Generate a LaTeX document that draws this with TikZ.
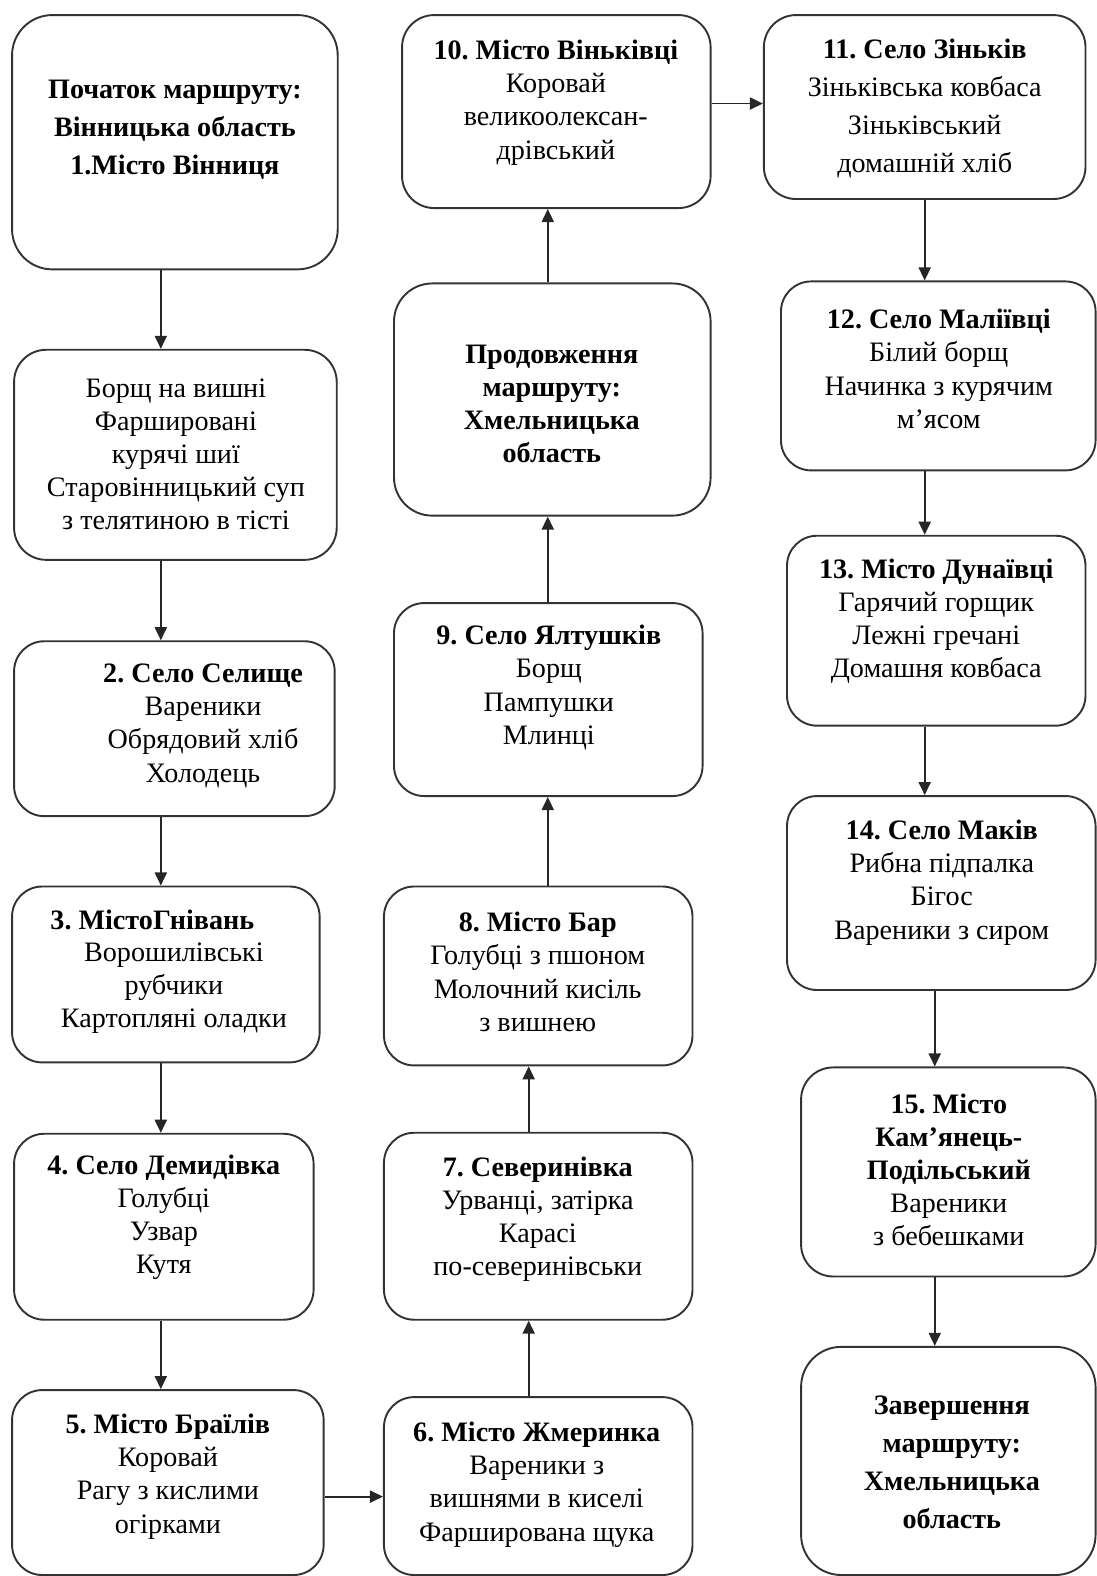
\documentclass[tikz,border=0pt]{standalone}
\usepackage{fontspec}
\setmainfont{Liberation Serif}
\usetikzlibrary{arrows.meta}
\frenchspacing
\newcommand\BoxAt[6]{\node[box, rounded corners=#6, minimum width={(#4)-(#2)}, minimum height={(#5)-(#3)}] (#1) at ({((#2)+(#4))/2},{((#3)+(#5))/2}) {};}
\begin{document}
\begin{tikzpicture}[x=1pt,y=-1pt,
 box/.style={draw=black!80, line width=1.9pt, inner sep=0pt, fill=white},
 txt/.style={align=center, inner sep=0pt, font=\fontsize{28}{33}\selectfont\frenchspacing},
 txtw/.style={align=center, inner sep=0pt, font=\fontsize{28}{38}\selectfont\frenchspacing},
 btxt/.style={align=center, inner sep=0pt, font=\fontsize{28}{38}\selectfont\bfseries\frenchspacing},
 arr/.style={draw=black!85, line width=1.9pt, -{Triangle[length=13pt,width=12pt]}}
]
\useasboundingbox (0,0) rectangle (1091,1568);
% column 1
\BoxAt{b0}{12}{15}{336}{268}{40pt}
\BoxAt{bA}{14}{348}{335}{557}{32pt}
\BoxAt{b2}{14}{638}{333}{812}{30pt}
\BoxAt{b3}{12}{882}{318}{1057}{30pt}
\BoxAt{b4}{14}{1128}{312}{1313}{30pt}
\BoxAt{b5}{12}{1383}{322}{1567}{30pt}
% column 2
\BoxAt{b6}{382}{1390}{689}{1567}{30pt}
\BoxAt{b7}{382}{1127}{689}{1313}{30pt}
\BoxAt{b8}{382}{882}{689}{1060}{30pt}
\BoxAt{b9}{392}{600}{699}{792}{30pt}
\BoxAt{bP}{392}{282}{707}{513}{38pt}
\BoxAt{b10}{400}{15}{707}{207}{32pt}
% column 3
\BoxAt{b11}{760}{15}{1080}{198}{32pt}
\BoxAt{b12}{777}{280}{1090}{468}{30pt}
\BoxAt{b13}{783}{533}{1080}{722}{30pt}
\BoxAt{b14}{783}{792}{1090}{985}{30pt}
\BoxAt{b15}{797}{1062}{1090}{1270}{32pt}
\BoxAt{bE}{797}{1340}{1090}{1567}{40pt}

% texts
\node[btxt] (t0) at (174,129) {Початок маршруту:\\Вінницька область\\1.Місто Вінниця};
\node[txt] (tA) at (175,452) {Борщ на вишні\\Фаршировані\\курячі шиї\\Старовінницький суп\\з телятиною в тісті};
\node[txt] (t2) at (202,722) {\textbf{2. Село Селище}\\Вареники\\Обрядовий хліб\\Холодець};
\node[txt, anchor=base west] (t3h) at (50,925) {\textbf{3. МістоГнівань}};
\node[txt] (t3) at (173,983) {Ворошилівські\\рубчики\\Картопляні оладки};
\node[txt] (t4) at (163,1211) {\textbf{4. Село Демидівка}\\Голубці\\Узвар\\Кутя};
\node[txt] (t5) at (167,1469) {\textbf{5. Місто Браїлів}\\Коровай\\Рагу з кислими\\огірками};
\node[txt] (t6) at (534,1477) {\textbf{6. Місто Жмеринка}\\Вареники з\\вишнями в киселі\\Фарширована щука};
\node[txt] (t7) at (535,1213) {\textbf{7. Северинівка}\\Урванці, затірка\\Карасі\\по-северинівськи};
\node[txt] (t8) at (535,967) {\textbf{8. Місто Бар}\\Голубці з пшоном\\Молочний кисіль\\з вишнею};
\node[txt] (t9) at (546,684) {\textbf{9. Село Ялтушків}\\Борщ\\Пампушки\\Млинці};
\node[txt, font=\fontsize{28}{33}\selectfont\bfseries] (tP) at (549,402) {Продовження\\маршруту:\\Хмельницька\\область};
\node[txt] (t10) at (553,102) {\textbf{10. Місто Віньківці}\\Коровай\\великоолексан-\\дрівський};
\node[txtw] (t11) at (920,108) {\textbf{11. Село Зіньків}\\Зіньківська ковбаса\\Зіньківський\\домашній хліб};
\node[txt] (t12) at (934,367) {\textbf{12. Село Маліївці}\\Білий борщ\\Начинка з курячим\\м’ясом};
\node[txt] (t13) at (931.5,618) {\textbf{13. Місто Дунаївці}\\Гарячий горщик\\Лежні гречані\\Домашня ковбаса};
\node[txt] (t14) at (937,878) {\textbf{14. Село Маків}\\Рибна підпалка\\Бігос\\Вареники з сиром};
\node[txt] (t15) at (944,1164) {\textbf{15. Місто}\\\textbf{Кам’янець-}\\\textbf{Подільський}\\Вареники\\з бебешками};
\node[btxt] (tE) at (947,1455) {Завершення\\маршруту:\\Хмельницька\\область};

% connector guides
\coordinate (x1) at (160,0);
\coordinate (x2a) at (526,0);
\coordinate (x2b) at (545,0);
\coordinate (x3a) at (920,0);
\coordinate (x3b) at (930,0);
\coordinate (h1) at (0,1489);
\coordinate (h2) at (0,103);

\draw[arr] (b0.south -| x1) -- (bA.north -| x1);
\draw[arr] (bA.south -| x1) -- (b2.north -| x1);
\draw[arr] (b2.south -| x1) -- (b3.north -| x1);
\draw[arr] (b3.south -| x1) -- (b4.north -| x1);
\draw[arr] (b4.south -| x1) -- (b5.north -| x1);
\draw[arr] (b5.east |- h1) -- (b6.west |- h1);
\draw[arr] (b6.north -| x2a) -- (b7.south -| x2a);
\draw[arr] (b7.north -| x2a) -- (b8.south -| x2a);
\draw[arr] (b8.north -| x2b) -- (b9.south -| x2b);
\draw[arr] (b9.north -| x2b) -- (bP.south -| x2b);
\draw[arr] (bP.north -| x2b) -- (b10.south -| x2b);
\draw[arr] (b10.east |- h2) -- (b11.west |- h2);
\draw[arr] (b11.south -| x3a) -- (b12.north -| x3a);
\draw[arr] (b12.south -| x3a) -- (b13.north -| x3a);
\draw[arr] (b13.south -| x3a) -- (b14.north -| x3a);
\draw[arr] (b14.south -| x3b) -- (b15.north -| x3b);
\draw[arr] (b15.south -| x3b) -- (bE.north -| x3b);
\end{tikzpicture}
\end{document}
